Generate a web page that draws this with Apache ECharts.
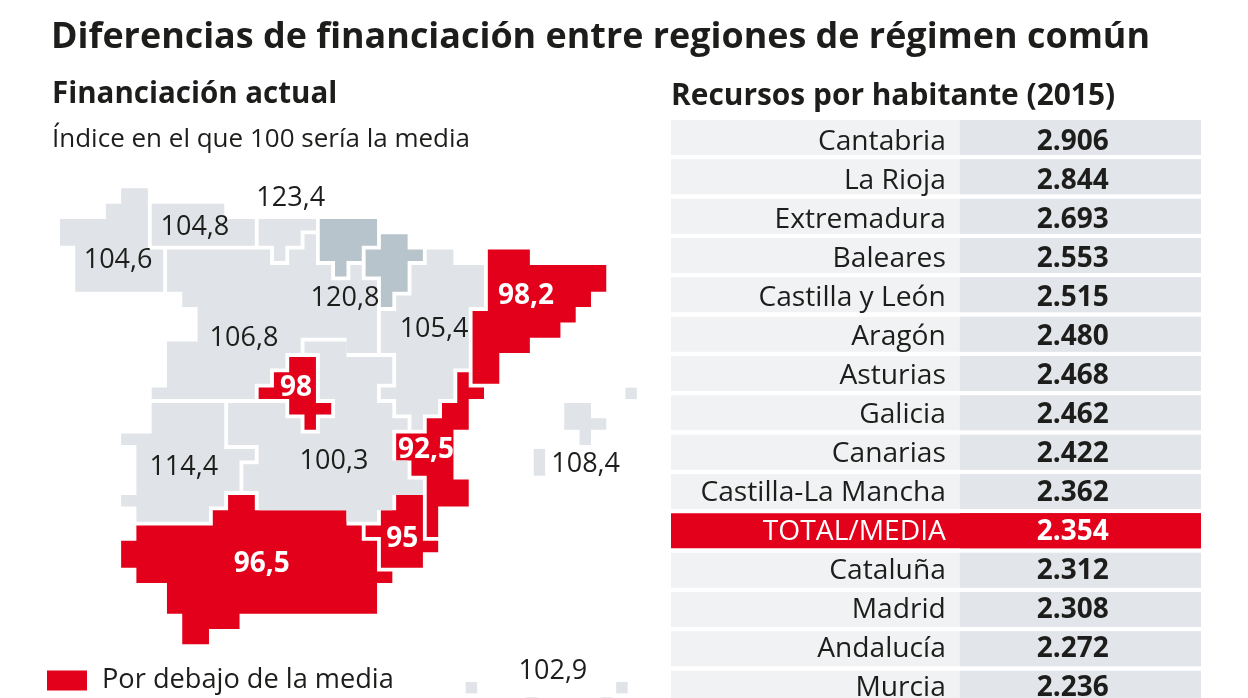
<!DOCTYPE html>
<html><head><meta charset="utf-8">
<style>html,body{margin:0;padding:0;background:#fff;overflow:hidden}#c{width:1248px;height:698px}</style>
<script src="https://cdn.jsdelivr.net/npm/echarts@6/dist/echarts.min.js"></script>
</head><body><div id="c"></div>
<script>
// Table data
const rowNames = ['Cantabria','La Rioja','Extremadura','Baleares','Castilla y León','Aragón','Asturias','Galicia','Canarias','Castilla-La Mancha','TOTAL/MEDIA','Cataluña','Madrid','Andalucía','Murcia'];
const rowValues = [2906,2844,2693,2553,2515,2480,2468,2462,2422,2362,2354,2312,2308,2272,2236];
const totalRow = 'TOTAL/MEDIA';

// Map outlines, in grid cells (col,row) of the blocky map
const galicia = [[4,0],[5.75,0],[5.75,4],[6.75,4],[6.75,6.75],[1,6.75],[1,3.75],[0,3.75],[0,2],[3,2],[3,1],[4,1]];
const asturias = [[6,1],[10.75,1],[10.75,2],[12.75,2],[12.75,3.75],[6,3.75]];
const cantabria = [[13,2],[16.75,2],[16.75,2.75],[15.75,2.75],[15.75,3.75],[14.75,3.75],[14.75,4.75],[14,4.75],[14,3.75],[13,3.75]];
const castillaLeon = [[7,4],[13.75,4],[13.75,5],[15,5],[15,4],[16,4],[16,3],[16.75,3],[16.75,5],[17.75,5],[17.75,6],[19,6],[19,5],[19.75,5],[19.75,6],[20.75,6],[20.75,10.75],[18.75,10.75],[18.75,9.75],[15.75,9.75],[15.75,10.75],[14.75,10.75],[14.75,11.75],[13.75,11.75],[13.75,12.75],[12.75,12.75],[12.75,13.75],[6,13.75],[6,13],[7,13],[7,10],[9,10],[9,7.75],[8,7.75],[8,6.75],[7,6.75]];
const paisVasco = [[17,2],[20.75,2],[20.75,3.75],[19.75,3.75],[19.75,4.75],[18.75,4.75],[18.75,5.75],[18,5.75],[18,4.75],[17,4.75]];
const navarra = [[21,3],[22.75,3],[22.75,4],[23.75,4],[23.75,4.75],[22.75,4.75],[22.75,6.75],[21.75,6.75],[21.75,7.75],[21,7.75],[21,5.75],[20,5.75],[20,4],[21,4]];
const aragon = [[24,4],[25.75,4],[25.75,5],[27.75,5],[27.75,7.75],[26.75,7.75],[26.75,11.75],[25.75,11.75],[25.75,13.75],[24.75,13.75],[24.75,14.75],[23.75,14.75],[23.75,15.75],[23,15.75],[23,14.75],[22,14.75],[22,13.75],[21,13.75],[21,13],[22,13],[22,10.75],[21,10.75],[21,8],[22,8],[22,7],[23,7],[23,5],[24,5]];
const extremadura = [[6,14],[10.75,14],[10.75,17],[12.75,17],[12.75,17.75],[11.75,17.75],[11.75,19.75],[10.75,19.75],[10.75,20.75],[9.75,20.75],[9.75,21.75],[5,21.75],[5,20.75],[4,20.75],[4,20],[5,20],[5,16.75],[4,16.75],[4,16],[6,16]];
const castillaMancha = [[11,14],[14.75,14],[14.75,15],[15.75,15],[15.75,16],[17,16],[17,15],[18,15],[18,13.75],[17,13.75],[17,10.75],[16,10.75],[16,10],[18.75,10],[18.75,11],[21.75,11],[21.75,12.75],[20.75,12.75],[20.75,14],[21.75,14],[21.75,15],[22.75,15],[22.75,15.75],[21.75,15.75],[21.75,17.75],[22.75,17.75],[22.75,19],[23.75,19],[23.75,20],[21.75,20],[21.75,21],[20.75,21],[20.75,21.75],[18.75,21.75],[18.75,21],[13,21],[13,19.75],[12,19.75],[12,18],[13,18],[13,16.75],[11,16.75]];
const baleares1 = [[33,14],[34.75,14],[34.75,15],[35.75,15],[35.75,15.75],[34.75,15.75],[34.75,16.75],[34,16.75],[34,15.75],[33,15.75]];
const baleares2 = [[37,13],[37.75,13],[37.75,13.75],[37,13.75]];
const baleares3 = [[31,17],[31.75,17],[31.75,18.75],[31,18.75]];
const canarias1 = [[26.55,32.2],[27.3,32.2],[27.3,32.95],[26.55,32.95]];
const canarias2 = [[36.4,32.2],[37.15,32.2],[37.15,32.95],[36.4,32.95]];
const canarias3 = [[30.5,33.2],[31.25,33.2],[31.25,34],[30.5,34]];
const canarias4 = [[35.4,33.2],[36.15,33.2],[36.15,34],[35.4,34]];
const madrid = [[15,11],[16.75,11],[16.75,14],[17.75,14],[17.75,14.75],[16.75,14.75],[16.75,15.75],[16,15.75],[16,14.75],[15,14.75],[15,13.75],[13,13.75],[13,13],[14,13],[14,12],[15,12]];
const cataluna = [[28,4],[30.75,4],[30.75,5],[35.75,5],[35.75,6.75],[34.75,6.75],[34.75,7.75],[33.75,7.75],[33.75,8.75],[32.75,8.75],[32.75,9.75],[30.75,9.75],[30.75,10.75],[28.75,10.75],[28.75,12.75],[27,12.75],[27,8],[28,8]];
const valencia = [[26,12],[26.75,12],[26.75,13],[27.75,13],[27.75,13.75],[26.75,13.75],[26.75,15.75],[25.75,15.75],[25.75,19],[26.75,19],[26.75,20.75],[24.75,20.75],[24.75,22.75],[24,22.75],[24,18.75],[23,18.75],[23,17.75],[22,17.75],[22,16],[24,16],[24,15],[25,15],[25,14],[26,14]];
const murcia = [[22,20],[23.75,20],[23.75,23],[24.75,23],[24.75,23.75],[23.75,23.75],[23.75,24.75],[21,24.75],[21,22.75],[20,22.75],[20,22],[21,22],[21,21],[22,21]];
const andalucia = [[11,20],[12.75,20],[12.75,21],[18.75,21],[18.75,22],[19.75,22],[19.75,23],[20.75,23],[20.75,25],[21.75,25],[21.75,25.75],[20.75,25.75],[20.75,27.75],[11.75,27.75],[11.75,28.75],[9.75,28.75],[9.75,29.75],[8,29.75],[8,27.75],[7,27.75],[7,25.75],[5,25.75],[5,24.75],[4,24.75],[4,23],[5,23],[5,22],[10,22],[10,21],[11,21]];

const belowRegions = [andalucia,madrid,cataluna,valencia,murcia];
const aboveRegions = [galicia,asturias,cantabria,castillaLeon,aragon,extremadura,castillaMancha,baleares1,baleares2,baleares3,canarias1,canarias2,canarias3,canarias4];
const foralRegions = [paisVasco,navarra];

// Index labels on the map: [col,row,text]
const darkLabels = [[3.8,4.6,'104,6'],[8.83,2.46,'104,8'],[15.1,0.57,'123,4'],[18.65,7.09,'120,8'],[12.04,9.7,'106,8'],[24.48,9.1,'105,4'],[8.1,18.1,'114,4'],[17.93,17.72,'100,3'],[34.4,17.9,'108,4'],[32.26,31.4,'102,9']];
const whiteLabels = [[30.5,6.96,'98,2'],[15.45,12.96,'98'],[23.95,17,'92,5'],[13.2,24.4,'96,5'],[22.4,22.8,'95']];

const RED='#e2001a', GREY='#e0e4e8', FORAL='#b8c4cb', INK='#1d1d1b';
const FONT='"Open Sans"';

const chart = echarts.init(document.getElementById('c'),null,{renderer:'canvas'});
const polySeries=(name,list,color)=>({
  type:'custom',name,coordinateSystem:'cartesian2d',xAxisIndex:0,yAxisIndex:0,silent:true,clip:false,
  itemStyle:{color},
  data:list.map((_,i)=>[i]),
  encode:{x:-1,y:-1},
  renderItem:(p,api)=>({type:'polygon',shape:{points:list[api.value(0)].map(q=>api.coord(q))},style:{fill:color}})
});
const labelSeries=(list,color,weight,size)=>({
  type:'custom',coordinateSystem:'cartesian2d',xAxisIndex:0,yAxisIndex:0,silent:true,clip:false,z:5,
  data:list.map(d=>[d[0],d[1]]),
  renderItem:(p,api)=>{const c=api.coord([api.value(0),api.value(1)]);
    return {type:'text',style:{x:c[0],y:c[1]+1.5,text:list[p.dataIndex][2],fill:color,align:'center',verticalAlign:'middle',font:`${weight} ${size}px ${FONT}`}};}
});
const fmt=v=>String(v).replace(/(\d)(\d{3})$/,'$1.$2');
const tableSeries={
  type:'custom',coordinateSystem:'cartesian2d',xAxisIndex:1,yAxisIndex:1,silent:true,clip:false,
  data:rowNames.map((n,i)=>[0,n]),
  renderItem:(p,api)=>{
    const i=p.dataIndex,c=api.coord([0,rowNames[i]]),band=api.size([0,1])[1];
    const top=c[1]-band/2,h=35;
    const xa=api.coord([0,rowNames[i]])[0],xm=api.coord([0.545,rowNames[i]])[0],xb=api.coord([1,rowNames[i]])[0];
    const total=rowNames[i]===totalRow;
    const ty=top+h/2+4.7-0.33*i;
    return {type:'group',children:[
      {type:'rect',shape:{x:xa,y:top,width:xb-xa,height:h},style:{fill:total?RED:'#f1f2f4'}},
      {type:'rect',shape:{x:xm,y:top,width:xb-xm,height:h},style:{fill:total?RED:'#e2e5e9'}},
      {type:'text',style:{x:xm-14,y:ty,text:rowNames[i],fill:total?'#fff':INK,align:'right',verticalAlign:'middle',font:`400 28.2px ${FONT}`}},
      {type:'text',style:{x:xm+113,y:ty,text:fmt(rowValues[i]),fill:total?'#fff':INK,align:'center',verticalAlign:'middle',font:`700 28px ${FONT}`}}
    ]};
  }
};
const head=(text,left,top,size,weight)=>({text,left,top,textStyle:{fontFamily:FONT,fontSize:size,fontWeight:weight,color:INK,lineHeight:size}});
chart.setOption({
  animation:false,backgroundColor:'#fff',
  title:[
    head('Diferencias de financiación entre regiones de régimen común',46,15,35.9,700),
    head('Financiación actual',47,75,29.5,700),
    head('Índice en el que 100 sería la media',47,122,26,400),
    head('Recursos por habitante (2015)',666,77,29.9,700)
  ],
  legend:{left:42,top:662,data:['Por debajo de la media'],icon:'rect',itemWidth:40,itemHeight:20,selectedMode:false,
    textStyle:{fontFamily:FONT,fontSize:27.2,color:INK,padding:[0,0,0,10]}},
  grid:[
    {left:60,top:188.3,width:611.2,height:509.7,outerBoundsMode:'none'},
    {left:671,top:120,width:530,height:590,outerBoundsMode:'none'}
  ],
  xAxis:[
    {type:'value',min:0,max:40,show:false},
    {type:'value',min:0,max:1,show:false,gridIndex:1}
  ],
  yAxis:[
    {type:'value',min:0,max:33.25,inverse:true,show:false},
    {type:'category',data:rowNames,inverse:true,show:false,gridIndex:1}
  ],
  series:[
    polySeries('Por debajo de la media',belowRegions,RED),
    polySeries('Por encima de la media',aboveRegions,GREY),
    polySeries('Régimen foral',foralRegions,FORAL),
    labelSeries(darkLabels,INK,400,27),
    labelSeries(whiteLabels,'#fff',700,28),
    tableSeries
  ]
});
</script></body></html>
